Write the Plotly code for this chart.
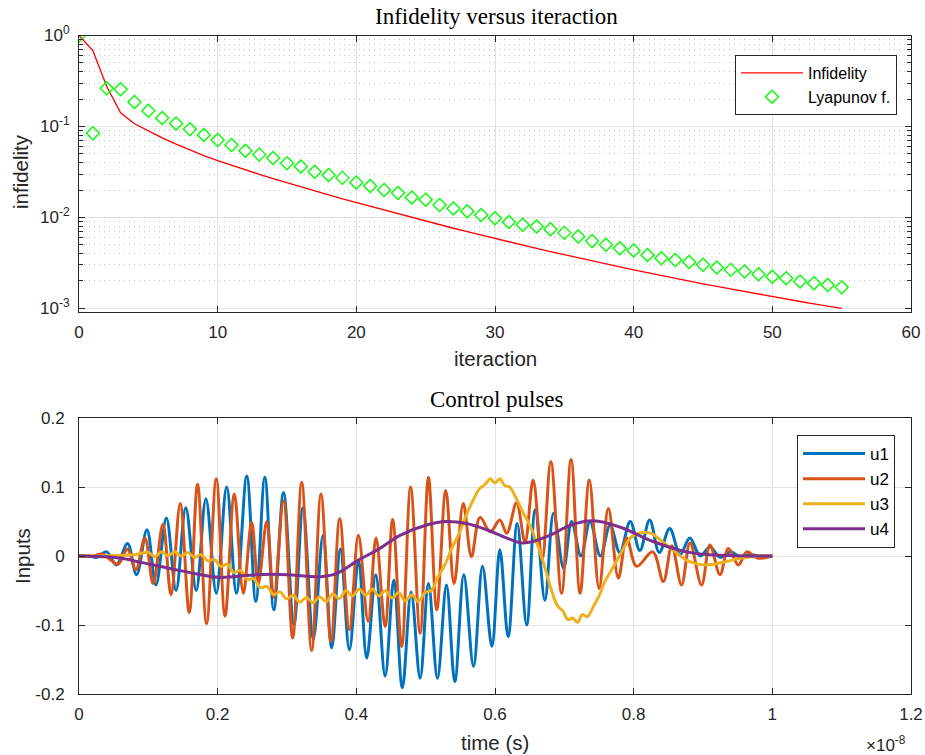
import plotly.graph_objects as go

# ---------------- data: top panel ----------------
iteration = list(range(56))
infidelity = [1.000, 0.681, 0.275, 0.141, 0.1072, 0.0891, 0.0750, 0.0638, 0.0550, 0.0479,
              0.0421, 0.0373, 0.0333, 0.0298, 0.0267, 0.0240, 0.0217, 0.0196, 0.0177, 0.0160,
              0.01456, 0.01321, 0.01202, 0.01094, 0.00998, 0.00910, 0.00832, 0.00760, 0.00697, 0.00638,
              0.00586, 0.00538, 0.00495, 0.00456, 0.00421, 0.00388, 0.00359, 0.00332, 0.00308, 0.00285,
              0.00265, 0.00246, 0.00229, 0.00213, 0.00199, 0.00186, 0.00174, 0.00163, 0.00152, 0.00143,
              0.00134, 0.00126, 0.00119, 0.00112, 0.00106, 0.00100]
lyapunov = [1.0, 0.0841, 0.263, 0.257, 0.186, 0.149, 0.124, 0.108, 0.0931, 0.0807,
            0.0711, 0.0627, 0.0542, 0.0490, 0.0451, 0.0394, 0.0363, 0.0318, 0.0293, 0.0272,
            0.0242, 0.0222, 0.0200, 0.0185, 0.0166, 0.0156, 0.0137, 0.0125, 0.0117, 0.0106,
            0.00977, 0.00891, 0.00832, 0.00794, 0.00741, 0.00676, 0.00617, 0.00550, 0.00501, 0.00457,
            0.00432, 0.00385, 0.00355, 0.00341, 0.00324, 0.00302, 0.00282, 0.00265, 0.00254, 0.00237,
            0.00222, 0.00214, 0.00197, 0.00189, 0.00181, 0.00171]

# ---------------- data: bottom panel (time in units of 1e-8 s) ----------------
u1_t = [0.000, 0.015, 0.026, 0.040, 0.054, 0.070, 0.083, 0.098, 0.111, 0.126, 0.140, 0.154, 0.169,
        0.183, 0.198, 0.213, 0.227, 0.242, 0.255, 0.268, 0.281, 0.295, 0.310, 0.323, 0.338, 0.352,
        0.3645, 0.377, 0.390, 0.403, 0.415, 0.428, 0.4415, 0.454, 0.4664, 0.479, 0.492, 0.504, 0.517,
        0.530, 0.542, 0.555, 0.569, 0.582, 0.5955, 0.607, 0.619, 0.632, 0.6457, 0.658, 0.672, 0.6845,
        0.699, 0.7105, 0.724, 0.737, 0.752, 0.766, 0.780, 0.795, 0.809, 0.823, 0.837, 0.852, 0.867,
        0.881, 0.896, 0.910, 0.925, 0.940, 0.953, 0.968, 0.980, 1.000]
u1_v = [0.0, 0.0, -0.002, 0.006, -0.013, 0.018, -0.027, 0.038, -0.042, 0.055, -0.050, 0.070, -0.050,
        0.083, -0.054, 0.100, -0.054, 0.116, -0.066, 0.114, -0.078, 0.092, -0.100, 0.070, -0.120, 0.030,
        -0.133, 0.010, -0.136, -0.006, -0.148, -0.027, -0.174, -0.035, -0.191, -0.052, -0.177, -0.040, -0.177,
        -0.042, -0.182, -0.027, -0.160, -0.015, -0.131, 0.009, -0.117, 0.047, -0.100, 0.067, -0.064, 0.062,
        -0.018, 0.050, 0.0, 0.050, 0.0, 0.045, 0.005, 0.050, 0.008, 0.052, 0.005, 0.040, 0.002,
        0.026, 0.0, 0.013, -0.002, 0.006, -0.001, 0.002, 0.0, 0.0]

u2_t = [0.000, 0.020, 0.0327, 0.0447, 0.0567, 0.0697, 0.082, 0.095, 0.107, 0.121, 0.1327, 0.146,
        0.159, 0.171, 0.184, 0.198, 0.2106, 0.224, 0.237, 0.249, 0.2586, 0.2707, 0.281, 0.295, 0.3082,
        0.3212, 0.3356, 0.349, 0.3634, 0.376, 0.390, 0.403, 0.417, 0.4284, 0.4415, 0.4524, 0.4654,
        0.4783, 0.492, 0.504, 0.516, 0.529, 0.541, 0.5543, 0.566, 0.5784, 0.593, 0.607, 0.617, 0.6311,
        0.6433, 0.655, 0.668, 0.6805, 0.696, 0.7097, 0.7227, 0.736, 0.7501, 0.7635, 0.7779, 0.7899,
        0.8043, 0.8274, 0.8428, 0.855, 0.869, 0.8813, 0.8979, 0.910, 0.9245, 0.9366, 0.951, 0.963,
        0.9784, 1.000]
u2_v = [0.0, 0.0, 0.003, -0.005, -0.012, 0.010, -0.020, 0.026, -0.040, 0.046, -0.056, 0.076,
        -0.082, 0.104, -0.098, 0.112, -0.087, 0.090, -0.054, 0.049, -0.040, 0.050, -0.060, 0.080, -0.119,
        0.107, -0.137, 0.090, -0.124, 0.054, -0.107, 0.030, -0.095, 0.026, -0.102, 0.053, -0.131,
        0.100, -0.112, 0.114, -0.078, 0.095, -0.040, 0.076, -0.001, 0.056, 0.035, 0.052, 0.033, 0.077,
        0.020, 0.110, -0.006, 0.137, -0.054, 0.140, -0.054, 0.110, -0.047, 0.069, -0.032, 0.026,
        -0.015, 0.006, -0.037, 0.015, -0.042, 0.019, -0.042, 0.016, -0.027, 0.011, -0.013, 0.006,
        -0.003, 0.0]

u3_t = [0.0, 0.03, 0.06, 0.08, 0.100, 0.1095, 0.119, 0.1285, 0.138, 0.1475, 0.157, 0.1665, 0.176,
        0.1855, 0.195, 0.2045, 0.214, 0.2235, 0.233, 0.2425, 0.252, 0.2615, 0.271, 0.2805, 0.290,
        0.2995, 0.309, 0.3185, 0.328, 0.3375, 0.347, 0.3565, 0.366, 0.3755, 0.385, 0.3945, 0.404,
        0.4135, 0.423, 0.4325, 0.442, 0.4515, 0.461, 0.4705, 0.480, 0.4895, 0.499, 0.508, 0.518,
        0.528, 0.538, 0.548, 0.558, 0.568, 0.578, 0.586, 0.593, 0.600, 0.607, 0.614, 0.621, 0.630,
        0.640, 0.650, 0.660, 0.670, 0.680, 0.690, 0.698, 0.705, 0.712, 0.719, 0.726, 0.733, 0.742,
        0.750, 0.758, 0.767, 0.776, 0.786, 0.795, 0.805, 0.815, 0.825, 0.835, 0.845, 0.855, 0.865,
        0.876, 0.890, 0.905, 0.920, 0.934, 0.950, 0.965, 0.980, 1.0]
u3_v = [0.0, 0.0, 0.001, 0.002, 0.005, -0.001, 0.006, 0.000, 0.006, 0.000, 0.005, -0.002, 0.002,
        -0.007, -0.005, -0.015, -0.012, -0.024, -0.021, -0.034, -0.033, -0.046, -0.044, -0.056, -0.052,
        -0.062, -0.057, -0.067, -0.060, -0.068, -0.059, -0.066, -0.055, -0.062, -0.050, -0.058, -0.048,
        -0.057, -0.048, -0.058, -0.050, -0.061, -0.053, -0.065, -0.056, -0.066, -0.053, -0.050, -0.030,
        -0.012, 0.012, 0.032, 0.058, 0.080, 0.098, 0.104, 0.112, 0.106, 0.112, 0.102, 0.100, 0.085,
        0.064, 0.045, 0.020, -0.010, -0.045, -0.072, -0.080, -0.092, -0.090, -0.096, -0.085, -0.088, -0.073,
        -0.058, -0.038, -0.022, -0.006, 0.012, 0.026, 0.032, 0.034, 0.033, 0.026, 0.018, 0.010, 0.002,
        -0.006, -0.011, -0.013, -0.011, -0.008, -0.004, -0.002, 0.0, 0.0]

u4_t = [0.0, 0.035, 0.059, 0.093, 0.131, 0.170, 0.203, 0.256, 0.300, 0.348, 0.370, 0.403, 0.434,
        0.463, 0.5015, 0.530, 0.559, 0.588, 0.617, 0.6385, 0.655, 0.679, 0.710, 0.742, 0.780, 0.828,
        0.876, 0.924, 1.0]
u4_v = [0.0, -0.001, -0.003, -0.010, -0.018, -0.026, -0.031, -0.027, -0.027, -0.030, -0.026, -0.006, 0.011,
        0.030, 0.045, 0.050, 0.047, 0.038, 0.026, 0.019, 0.021, 0.030, 0.045, 0.051, 0.042, 0.021,
        0.006, 0.001, 0.0]

x_ticks_bottom = [0, 0.2, 0.4, 0.6, 0.8, 1.0, 1.2]
x_ticklabels_bottom = ["0", "0.2", "0.4", "0.6", "0.8", "1", "1.2"]
y_ticks_bottom = [-0.2, -0.1, 0, 0.1, 0.2]
y_ticklabels_bottom = ["-0.2", "-0.1", "0", "0.1", "0.2"]
y_ticks_top = [1e-3, 1e-2, 1e-1, 1]
y_ticklabels_top = ["10<sup>-3</sup>", "10<sup>-2</sup>", "10<sup>-1</sup>", "10<sup>0</sup>"]

SCALE = 1e-8
W, H = 925, 755
SANS = "Liberation Sans, Arial, sans-serif"
SERIF = "Liberation Serif, Times New Roman, serif"
AX = "#262626"
GRID = "#e3e3e3"

fig = go.Figure()

fig.add_trace(go.Scatter(x=iteration, y=infidelity, mode="lines", name="Infidelity",
                         line=dict(color="#ff0000", width=1.3), xaxis="x", yaxis="y", legend="legend"))
fig.add_trace(go.Scatter(x=iteration, y=lyapunov, mode="markers", name="Lyapunov f.",
                         marker=dict(symbol="diamond-open", size=10, color="#00ff00",
                                     line=dict(color="#00ff00", width=1.4)),
                         xaxis="x", yaxis="y", legend="legend"))

colors = ["#0072BD", "#D95319", "#EDB120", "#7E2F8E"]
for name, tt, vv, c in [("u1", u1_t, u1_v, colors[0]), ("u2", u2_t, u2_v, colors[1]),
                        ("u3", u3_t, u3_v, colors[2]), ("u4", u4_t, u4_v, colors[3])]:
    fig.add_trace(go.Scatter(x=[t * SCALE for t in tt], y=vv, mode="lines", name=name,
                             line=dict(color=c, width=3, shape="spline", smoothing=1.0),
                             xaxis="x2", yaxis="y2", legend="legend2"))

def px_x(p):
    return p / W

def px_y(p):
    return 1 - p / H

common = dict(showline=True, linecolor=AX, linewidth=1, mirror="ticks", ticks="inside",
              tickcolor=AX, ticklen=6, showgrid=True, gridcolor=GRID, gridwidth=1,
              zeroline=False, automargin=False, tickfont=dict(family=SANS, size=17, color=AX))

fig.update_layout(
    template="none",
    width=W, height=H, margin=dict(l=0, r=0, t=0, b=0, pad=0, autoexpand=False),
    paper_bgcolor="white", plot_bgcolor="white",
    xaxis=dict(domain=[px_x(79), px_x(911)], range=[0, 60], dtick=10, anchor="y",
               ticklabelstandoff=5, **common),
    yaxis=dict(domain=[px_y(312), px_y(35.5)], type="log", range=[-3.04, 0], anchor="x",
               tickvals=y_ticks_top, ticktext=y_ticklabels_top, ticklabelstandoff=5,
               minor=dict(dtick="D1", ticks="inside", ticklen=4, tickcolor=AX, showgrid=True,
                          gridcolor="#c4c4c4", griddash="1px,4px"),
               **common),
    xaxis2=dict(domain=[px_x(79), px_x(911)], range=[0, 1.2 * SCALE], anchor="y2",
                tickvals=[v * SCALE for v in x_ticks_bottom], ticktext=x_ticklabels_bottom,
                ticklabelstandoff=5, **common),
    yaxis2=dict(domain=[px_y(694), px_y(418)], range=[-0.2, 0.2], anchor="x2",
                tickvals=y_ticks_bottom, ticktext=y_ticklabels_bottom, ticklabelstandoff=10, **common),
    legend=dict(x=px_x(897), y=px_y(55), xanchor="right", yanchor="top",
                bgcolor="white", bordercolor=AX, borderwidth=1, itemwidth=62,
                font=dict(family=SANS, size=16, color="#000"), tracegroupgap=0),
    legend2=dict(x=px_x(895), y=px_y(435), xanchor="right", yanchor="top",
                 bgcolor="white", bordercolor=AX, borderwidth=1, itemwidth=62,
                 font=dict(family=SANS, size=17, color="#000")),
    showlegend=True,
)

annots = [
    dict(text="Infidelity versus iteraction", x=px_x(497), y=px_y(17), font=dict(family=SERIF, size=23, color="#000")),
    dict(text="Control pulses", x=px_x(497), y=px_y(399), font=dict(family=SERIF, size=23, color="#000")),
    dict(text="infidelity", x=px_x(20), y=px_y(172), textangle=-90, font=dict(family=SANS, size=20.5, color=AX)),
    dict(text="iteraction", x=px_x(495.5), y=px_y(359), font=dict(family=SANS, size=20.5, color=AX)),
    dict(text="Inputs", x=px_x(22), y=px_y(556), textangle=-90, font=dict(family=SANS, size=20.5, color=AX)),
    dict(text="time (s)", x=px_x(495.5), y=px_y(742), font=dict(family=SANS, size=20.5, color=AX)),
    dict(text="\u00d710<sup>-8</sup>", x=px_x(886), y=px_y(744), font=dict(family=SANS, size=17, color=AX)),
]
for a in annots:
    fig.add_annotation(xref="paper", yref="paper", showarrow=False, xanchor="center", yanchor="middle", **a)

fig.write_html("out.html")
